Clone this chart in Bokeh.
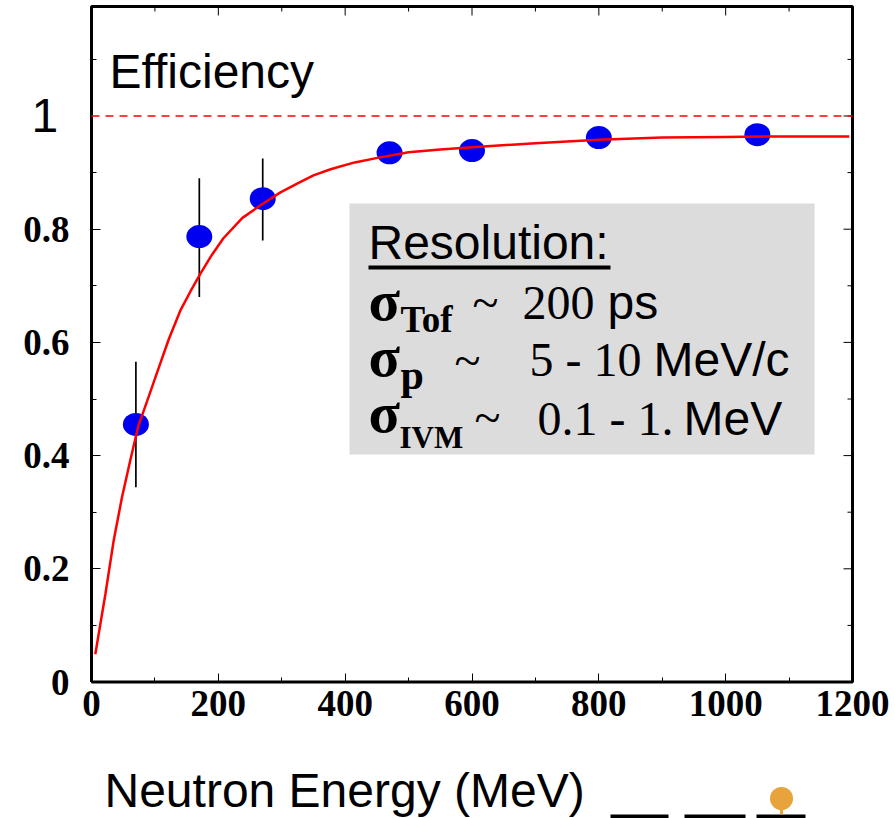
from bokeh.plotting import figure
from bokeh.models import Range1d, LinearAxis, FixedTicker
from bokeh.core.properties import value
from bokeh.embed import file_html
from bokeh.resources import INLINE

energy = [70, 170, 270, 470, 600, 800, 1050]
efficiency = [0.455, 0.787, 0.854, 0.935, 0.939, 0.962, 0.967]
err_x = [70, 170, 270]
err_low = [0.344, 0.68, 0.78]
err_high = [0.566, 0.89, 0.925]
fit_x = [6, 22, 35, 48, 61, 74, 88, 105, 122, 140, 156, 172, 190, 208, 238, 270, 298, 325, 350, 377, 415, 451, 500, 550, 600, 700, 800, 900, 1000, 1100, 1195]
fit_y = [.049, .156, .25, .326, .391, .453, .497, .552, .606, .656, .69, .722, .755, .784, .82, .845, .865, .881, .895, .906, .918, .926, .936, .941, .945, .952, .958, .962, .963, .964, .964]
x_ticks = [0, 200, 400, 600, 800, 1000, 1200]
x_minor = [100, 300, 500, 700, 900, 1100]
y_ticks = [0, 0.2, 0.4, 0.6, 0.8]
y_minor = [0.1, 0.3, 0.5, 0.7, 0.9, 1.1]
y_right = [0, 0.2, 0.4, 0.6, 0.8, 1.0]

W, H = 895, 818
FL, FR, FT, FB = 91, 852, 6, 681.5
XMAX, YMAX = 1200, (FB - FT) / 566


def X(px):
    return (px - FL) / (FR - FL) * XMAX


def Y(py):
    return (FB - py) / 566


p = figure(width=W, height=H, output_backend="svg", toolbar_location=None,
           x_range=Range1d(X(0), X(W)), y_range=Range1d(Y(H), Y(0)),
           min_border=0, x_axis_type=None, y_axis_type=None)
p.xgrid.visible = False
p.ygrid.visible = False
p.outline_line_color = None


def style(ax, major, minor):
    ax.ticker = FixedTicker(ticks=major, minor_ticks=minor)
    ax.major_tick_in = 9
    ax.major_tick_out = 0
    ax.minor_tick_in = 5
    ax.minor_tick_out = 0
    ax.axis_line_color = None
    ax.major_tick_line_color = "black"
    ax.minor_tick_line_color = "black"
    ax.major_label_text_font = "Liberation Serif"
    ax.major_label_text_font_size = "37px"
    ax.major_label_text_font_style = "bold"
    ax.major_label_text_color = "black"


bottom = LinearAxis(fixed_location=0)
style(bottom, x_ticks, x_minor)
bottom.major_label_standoff = 9
bottom.major_label_overrides = {v: str(v) for v in x_ticks}
left = LinearAxis(fixed_location=0)
style(left, y_ticks, y_minor)
left.major_label_standoff = 22
left.major_label_overrides = {0: "0", 0.2: "0.2", 0.4: "0.4", 0.6: "0.6", 0.8: "0.8"}
p.add_layout(bottom, "below")
p.add_layout(left, "left")

# ticks of the top and right edges
mj, mn = 9, 5
p.segment(x_ticks, YMAX, x_ticks, YMAX - mj / 566, line_color="black", line_width=1)
p.segment(x_minor, YMAX, x_minor, YMAX - mn / 566, line_color="black", line_width=1)
pxx = XMAX / (FR - FL)
p.segment(XMAX, y_right, XMAX - mj * pxx, y_right, line_color="black", line_width=1)
p.segment(XMAX, y_minor, XMAX - mn * pxx, y_minor, line_color="black", line_width=1)
p.line([0, 0, XMAX, XMAX, 0], [0, YMAX, YMAX, 0, 0], line_color="black", line_width=3)


def lab(text, px, py, size, font="Liberation Sans", fstyle="normal"):
    # this text is drawn about 0.37 of its size below the asked-for baseline
    p.text([X(px)], [Y(py - 0.37 * size)], text=[text], text_font=value(font), text_font_size=value(f"{size}px"),
           text_font_style=fstyle, text_color="black", text_baseline="alphabetic", text_align="left")


p.quad(left=[X(349)], right=[X(814)], top=[Y(203)], bottom=[Y(454)], fill_color="#dcdcdc", line_color=None)

p.line([0, XMAX], [1, 1], line_color="#ff0000", line_width=1.5, line_dash="8 6")
p.segment(err_x, err_low, err_x, err_high, line_color="black", line_width=1.7)
p.ellipse(energy, efficiency, width=26, height=23, width_units="screen", height_units="screen",
          fill_color="#0000f0", line_color=None)
p.line(fit_x, fit_y, line_color="#ff0000", line_width=2.5)

lab("Efficiency", 109, 89, 48)
lab("1", 31, 133, 48)
lab("Neutron Energy (MeV)", 104, 808, 48)

lab("Resolution:", 368, 260, 48)
p.line([X(368), X(610)], [Y(267), Y(267)], line_color="black", line_width=4)
S, T = "Liberation Serif", "Liberation Sans"
lab("σ", 368, 321, 58, S, "bold"); lab("Tof", 400, 333, 37, S, "bold")
lab("~", 472, 320, 48, S); lab("200", 522, 320, 48, S); lab("ps", 607, 320, 48, T)
lab("σ", 368, 377, 58, S, "bold"); lab("p", 400, 390, 42, S, "bold")
lab("~", 454, 377.5, 48, S); lab("5 - 10", 529, 377, 48, S); lab("MeV/c", 653, 377, 48, T)
lab("σ", 368, 433, 58, S, "bold"); lab("IVM", 399, 448, 31, S, "bold")
lab("~", 474, 434.5, 48, S); lab("0.1 - 1.", 537, 436, 48, S); lab("MeV", 683, 436, 48, T)

# logo fragment at the page's bottom edge
p.quad(left=[X(610), X(684), X(756)], right=[X(668), X(745), X(805)],
       top=Y(814), bottom=Y(820), fill_color="black", line_color=None)
p.segment(X(781), Y(806), X(781), Y(814), line_color="#e8a33c", line_width=3)
p.ellipse(X(781), Y(798), width=23, height=23, width_units="screen", height_units="screen",
          fill_color="#e8a33c", line_color=None)

open("out.html", "w").write(file_html(p, INLINE))
